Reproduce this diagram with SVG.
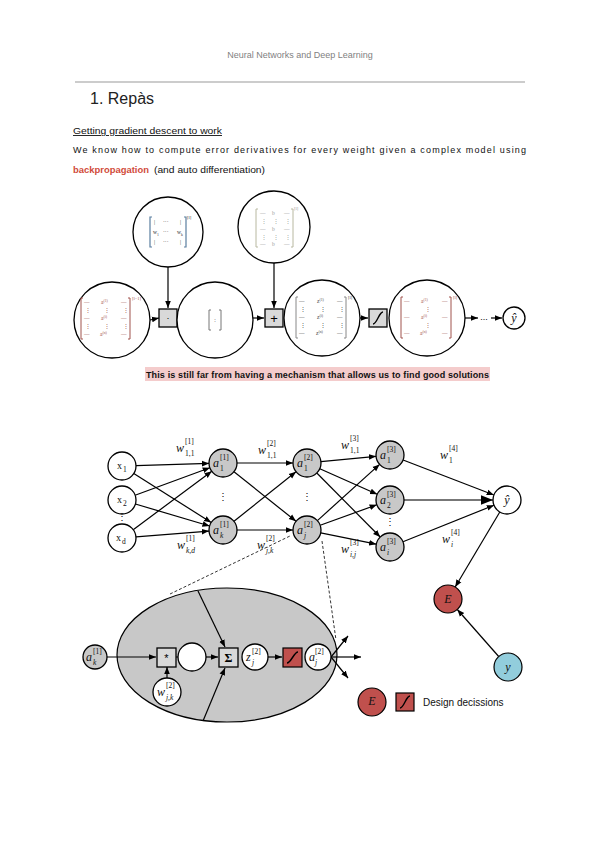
<svg xmlns="http://www.w3.org/2000/svg" width="600" height="848" viewBox="0 0 600 848">
<style>
.hdr{font-family:"Liberation Sans",Arial,sans-serif;font-size:9px;fill:#7f7f7f}
.body{font-family:"Liberation Sans",Arial,sans-serif;font-size:9px;fill:#111}
.red{fill:#d14b3a;font-weight:bold}
.h1{font-family:"Liberation Sans",Arial,sans-serif;font-size:16px;fill:#222}
.nd{fill:#fff;stroke:#000;stroke-width:1.3}
.gn{fill:#c8c8c8;stroke:#000;stroke-width:1.3}
.ed{stroke:#000;stroke-width:1.2;fill:none;marker-end:url(#ah)}
.ln{stroke:#000;stroke-width:1.2;fill:none}
.bx{fill:#d9d9d9;stroke:#000;stroke-width:1.3}
.rb{fill:#c0504d;stroke:#000;stroke-width:1.2}
.m{font-family:"Liberation Serif","Times New Roman",serif;font-style:italic;font-size:12px;fill:#111}
.ms{font-family:"Liberation Serif","Times New Roman",serif;font-size:7.5px;fill:#111}
.msi{font-family:"Liberation Serif","Times New Roman",serif;font-style:italic;font-size:7.5px;fill:#111}
.xs{font-family:"Liberation Serif","Times New Roman",serif;font-size:10px;fill:#111}
.mx{font-family:"Liberation Serif","Times New Roman",serif;font-size:5.5px}
.sup{font-size:3.8px}
.sig{stroke:#000;stroke-width:1.4;fill:none}
.dash{stroke:#000;stroke-width:0.8;stroke-dasharray:3,2;fill:none}
</style>
<defs>
<marker id="ah" viewBox="0 0 10 10" refX="10" refY="5" markerWidth="6" markerHeight="6" orient="auto-start-reverse"><path d="M0,1 L10,5 L0,9 z" fill="#000"/></marker>
</defs>
<rect width="600" height="848" fill="#fff"/>

<g id="header">
<text class="hdr" x="300" y="58" text-anchor="middle">Neural Networks and Deep Learning</text>
<line x1="75" y1="82" x2="525" y2="82" stroke="#999" stroke-width="1"/>
<text class="h1" x="90" y="104">1. Repàs</text>
<text class="body" x="73" y="134" textLength="149" lengthAdjust="spacingAndGlyphs" text-decoration="underline">Getting gradient descent to work</text>
<text class="body" x="73" y="153" textLength="453" lengthAdjust="spacing">We know how to compute error derivatives for every weight given a complex model using</text>
<text class="body red" x="73" y="173" textLength="76" lengthAdjust="spacingAndGlyphs">backpropagation</text>
<text class="body" x="154" y="173" textLength="111" lengthAdjust="spacingAndGlyphs">(and auto differentiation)</text>
</g>

<!-- Top computational graph -->
<g id="top-connectors">
<line class="ed" x1="150" y1="320" x2="159" y2="318"/>
<line class="ed" x1="168" y1="267" x2="168" y2="308"/>
<line class="ed" x1="253" y1="318" x2="264" y2="318"/>
<line class="ed" x1="274" y1="263" x2="274" y2="308"/>
<line class="ed" x1="360" y1="318" x2="368" y2="318"/>
<line class="ed" x1="465" y1="318" x2="478" y2="318"/>
<line class="ed" x1="491" y1="318" x2="502" y2="318"/>
</g>
<g id="t-a-prev">
<circle class="nd" cx="112" cy="320" r="38"/>
<path d="M83,298 h-2 v41 h2 M128,298 h2 v41 h-2" stroke="#a0524d" fill="none" stroke-width="1"/>
<g class="mx" fill="#a0524d">
<text x="84" y="304">—</text><text x="101" y="304">a<tspan class="sup" dy="-2">(1)</tspan></text><text x="121" y="304">—</text>
<text x="85" y="312">⋮</text><text x="104" y="312">⋮</text><text x="123" y="312">⋮</text>
<text x="84" y="320">—</text><text x="101" y="320">a<tspan class="sup" dy="-2">(i)</tspan></text><text x="121" y="320">—</text>
<text x="85" y="328">⋮</text><text x="104" y="328">⋮</text><text x="123" y="328">⋮</text>
<text x="84" y="336">—</text><text x="100" y="336">a<tspan class="sup" dy="-2">(n)</tspan></text><text x="121" y="336">—</text>
<text x="132" y="300" font-size="4.5">[l−1]</text>
</g>
</g>
<g id="t-W">
<circle class="nd" cx="168" cy="232" r="35"/>
<path d="M152,217 h-2 v30 h2 M184,217 h2 v30 h-2" stroke="#5a7fa0" fill="none" stroke-width="1.2"/>
<g class="mx" fill="#333">
<text x="154" y="224">|</text><text x="163" y="224">···</text><text x="180" y="224">|</text>
<text x="153" y="234">w<tspan class="sup" dy="1.5">1</tspan></text><text x="163" y="234">···</text><text x="177" y="234">w<tspan class="sup" dy="1.5">k</tspan></text>
<text x="154" y="244">|</text><text x="163" y="244">···</text><text x="180" y="244">|</text>
<text x="187" y="219" font-size="4.5">[l]</text>
</g>
</g>
<g id="t-mul">
<rect class="bx" x="159" y="309" width="18" height="18"/>
<text x="168" y="321" text-anchor="middle" font-family="Liberation Sans" font-size="9">·</text>
</g>
<g id="t-mid">
<circle class="nd" cx="215" cy="320" r="38"/>
<path d="M211,310 h-2 v20 h2 M219,310 h2 v20 h-2" stroke="#777" fill="none" stroke-width="1"/>
<text x="215" y="322" text-anchor="middle" class="mx" fill="#555">:</text>
</g>
<g id="t-b">
<circle class="nd" cx="274" cy="227" r="36"/>
<path d="M258,209 h-2 v38 h2 M291,209 h2 v38 h-2" stroke="#b8b8a0" fill="none" stroke-width="1"/>
<g class="mx" fill="#999">
<text x="260" y="215">—</text><text x="272" y="215">b</text><text x="284" y="215">—</text>
<text x="261" y="223">⋮</text><text x="273" y="223">⋮</text><text x="285" y="223">⋮</text>
<text x="260" y="231">—</text><text x="272" y="231">b</text><text x="284" y="231">—</text>
<text x="261" y="239">⋮</text><text x="273" y="239">⋮</text><text x="285" y="239">⋮</text>
<text x="260" y="246">—</text><text x="272" y="246">b</text><text x="284" y="246">—</text>
<text x="294" y="210" font-size="4.5">[l]</text>
</g>
</g>
<g id="t-add">
<rect class="bx" x="265" y="309" width="18" height="18"/>
<text x="274" y="323" text-anchor="middle" font-family="Liberation Sans" font-size="13">+</text>
</g>
<g id="t-z">
<circle class="nd" cx="322" cy="318" r="38"/>
<path d="M298,297 h-2 v41 h2 M344,297 h2 v41 h-2" stroke="#888" fill="none" stroke-width="1"/>
<g class="mx" fill="#444">
<text x="299" y="303">—</text><text x="317" y="303">z<tspan class="sup" dy="-2">(1)</tspan></text><text x="337" y="303">—</text>
<text x="300" y="311">⋮</text><text x="320" y="311">⋮</text><text x="339" y="311">⋮</text>
<text x="299" y="319">—</text><text x="317" y="319">z<tspan class="sup" dy="-2">(i)</tspan></text><text x="337" y="319">—</text>
<text x="300" y="327">⋮</text><text x="320" y="327">⋮</text><text x="339" y="327">⋮</text>
<text x="299" y="335">—</text><text x="316" y="335">z<tspan class="sup" dy="-2">(n)</tspan></text><text x="337" y="335">—</text>
<text x="348" y="299" font-size="4.5">[l]</text>
</g>
</g>
<g id="t-sig">
<rect class="bx" x="369" y="309" width="18" height="18"/>
<path class="sig" d="M373,324 C377,324 379,312 383,312"/>
</g>
<g id="t-a">
<circle class="nd" cx="427" cy="318" r="38"/>
<path d="M403,297 h-2 v41 h2 M449,297 h2 v41 h-2" stroke="#a0524d" fill="none" stroke-width="1"/>
<g class="mx" fill="#a0524d">
<text x="404" y="303">—</text><text x="421" y="303">a<tspan class="sup" dy="-2">(1)</tspan></text><text x="442" y="303">—</text>
<text x="425" y="311">⋮</text>
<text x="404" y="319">—</text><text x="421" y="319">a<tspan class="sup" dy="-2">(i)</tspan></text><text x="442" y="319">—</text>
<text x="425" y="327">⋮</text>
<text x="404" y="335">—</text><text x="420" y="335">a<tspan class="sup" dy="-2">(n)</tspan></text><text x="442" y="335">—</text>
<text x="453" y="299" font-size="4.5">[l]</text>
</g>
</g>
<g id="t-dots"><text x="484" y="320" text-anchor="middle" font-family="Liberation Sans" font-size="9">...</text></g>
<g id="t-yhat">
<circle class="nd" cx="514" cy="318" r="11"/>
<text class="m" x="514" y="322" text-anchor="middle">ŷ</text>
</g>

<g id="caption">
<rect x="145" y="367" width="345" height="14" fill="#f4cccc"/>
<text class="body" x="146" y="377.5" textLength="343" lengthAdjust="spacing" font-weight="bold" font-size="8.5">This is still far from having a mechanism that allows us to find good solutions</text>
</g>

<!-- Neural network -->
<g id="nn-connectors">
<line class="ed" x1="136" y1="465.6" x2="209" y2="463.4"/>
<line class="ed" x1="133.8" y1="473.5" x2="211.2" y2="522.5"/>
<line class="ed" x1="135.1" y1="495.2" x2="209.9" y2="467.8"/>
<line class="ed" x1="135.4" y1="504" x2="209.6" y2="526"/>
<line class="ed" x1="133.2" y1="529.7" x2="211.8" y2="471.3"/>
<line class="ed" x1="136" y1="536.9" x2="209" y2="531.1"/>
<line class="ed" x1="237" y1="463" x2="293" y2="463"/>
<line class="ed" x1="234" y1="471.7" x2="296" y2="521.3"/>
<line class="ed" x1="234" y1="521.3" x2="296" y2="471.7"/>
<line class="ed" x1="237" y1="530" x2="293" y2="530"/>
<line class="ed" x1="320.9" y1="461.7" x2="376.1" y2="456.3"/>
<line class="ed" x1="319.8" y1="468.7" x2="377.2" y2="494.3"/>
<line class="ed" x1="316.8" y1="473" x2="380.2" y2="537"/>
<line class="ed" x1="317.4" y1="520.6" x2="379.6" y2="464.4"/>
<line class="ed" x1="320.2" y1="525.2" x2="376.8" y2="504.8"/>
<line class="ed" x1="320.7" y1="532.8" x2="376.3" y2="544.2"/>
<line class="ed" x1="403.1" y1="460" x2="493.9" y2="495"/>
<line x1="404" y1="500" x2="493" y2="500" stroke="#777" stroke-width="2" marker-end="url(#ah)"/>
<line class="ed" x1="403" y1="541.8" x2="494" y2="505.2"/>
<line class="ed" x1="499.8" y1="512" x2="455.2" y2="587"/>
<line class="ed" x1="498.7" y1="656.5" x2="457.3" y2="609.5"/>
<line class="dash" x1="170" y1="594" x2="290" y2="536"/>
<line class="dash" x1="322" y1="541" x2="336" y2="640"/>
</g>

<g id="x1"><circle class="nd" cx="122" cy="466" r="14"/><text class="xs" x="117" y="469">x</text><text class="ms" x="123" y="472">1</text></g>
<g id="x2"><circle class="nd" cx="122" cy="500" r="14"/><text class="xs" x="117" y="503">x</text><text class="ms" x="123" y="506">2</text></g>
<g id="xdots"><text class="xs" x="122" y="520" text-anchor="middle">⋮</text></g>
<g id="xd"><circle class="nd" cx="122" cy="538" r="14"/><text class="xs" x="116" y="541">x</text><text class="ms" x="122" y="544">d</text></g>

<g id="h1"><circle class="gn" cx="223" cy="463" r="14"/><text class="m" x="213" y="467">a</text><text class="ms" x="220" y="460">[1]</text><text class="ms" x="220" y="471">1</text></g>
<g id="hdots"><text class="xs" x="223" y="500" text-anchor="middle">⋮</text></g>
<g id="hk"><circle class="gn" cx="223" cy="530" r="14"/><text class="m" x="213" y="534">a</text><text class="ms" x="220" y="527">[1]</text><text class="msi" x="220" y="538">k</text></g>

<g id="g1"><circle class="gn" cx="307" cy="463" r="14"/><text class="m" x="297" y="467">a</text><text class="ms" x="304" y="460">[2]</text><text class="ms" x="304" y="471">1</text></g>
<g id="gdots"><text class="xs" x="307" y="500" text-anchor="middle">⋮</text></g>
<g id="gj"><circle class="gn" cx="307" cy="530" r="14"/><text class="m" x="297" y="534">a</text><text class="ms" x="304" y="527">[2]</text><text class="msi" x="304" y="538">j</text></g>

<g id="o1"><circle class="gn" cx="390" cy="455" r="14"/><text class="m" x="380" y="459">a</text><text class="ms" x="387" y="452">[3]</text><text class="ms" x="387" y="463">1</text></g>
<g id="o2"><circle class="gn" cx="390" cy="500" r="14"/><text class="m" x="380" y="504">a</text><text class="ms" x="387" y="497">[3]</text><text class="ms" x="387" y="508">2</text></g>
<g id="odots"><text class="xs" x="390" y="525" text-anchor="middle">⋮</text></g>
<g id="oi"><circle class="gn" cx="390" cy="547" r="14"/><text class="m" x="380" y="551">a</text><text class="ms" x="387" y="544">[3]</text><text class="msi" x="387" y="555">i</text></g>

<g id="yhat"><circle class="nd" cx="507" cy="500" r="14"/><text class="m" x="507" y="504" text-anchor="middle">ŷ</text></g>
<g id="E"><circle class="rb" cx="448" cy="599" r="14"/><text class="m" x="448" y="603" text-anchor="middle" font-size="9">E</text></g>
<g id="y"><circle cx="508" cy="667" r="14" fill="#92cddc" stroke="#000" stroke-width="1.2"/><text class="m" x="508" y="671" text-anchor="middle" font-size="10">y</text></g>

<g id="weights">
<text class="m" x="176" y="452">w</text><text class="ms" x="185" y="444">[1]</text><text class="ms" x="185" y="456">1,1</text>
<text class="m" x="258" y="454">w</text><text class="ms" x="267" y="446">[2]</text><text class="ms" x="267" y="458">1,1</text>
<text class="m" x="177" y="549">w</text><text class="ms" x="186" y="541">[1]</text><text class="msi" x="186" y="553">k,d</text>
<text class="m" x="257" y="549">w</text><text class="ms" x="266" y="541">[2]</text><text class="msi" x="266" y="553">j,k</text>
<text class="m" x="341" y="449">w</text><text class="ms" x="350" y="441">[3]</text><text class="ms" x="350" y="453">1,1</text>
<text class="m" x="341" y="553">w</text><text class="ms" x="350" y="545">[3]</text><text class="msi" x="350" y="557">i,j</text>
<text class="m" x="440" y="459">w</text><text class="ms" x="449" y="451">[4]</text><text class="ms" x="449" y="463">1</text>
<text class="m" x="442" y="543">w</text><text class="ms" x="451" y="535">[4]</text><text class="msi" x="451" y="547">i</text>
</g>

<!-- Zoomed neuron -->
<g id="neuron-ellipse"><ellipse cx="227" cy="655" rx="110" ry="67" fill="#c8c8c8" stroke="#000" stroke-width="1.2"/></g>
<g id="neuron-connectors">
<line class="ed" x1="107" y1="657" x2="156" y2="657"/>
<line class="ln" x1="176" y1="657" x2="178" y2="657"/>
<line class="ed" x1="206" y1="657" x2="218" y2="657"/>
<line class="ed" x1="268" y1="657" x2="282" y2="657"/>
<line class="ed" x1="167" y1="678" x2="167" y2="667"/>
<line class="ed" x1="198" y1="591" x2="225" y2="647"/>
<line class="ed" x1="203" y1="721" x2="225" y2="668"/>
<line class="ed" x1="331" y1="657" x2="361" y2="657"/>
<line class="ed" x1="331" y1="657" x2="348" y2="636"/>
<line class="ed" x1="331" y1="657" x2="348" y2="678"/>
</g>
<g id="n-ak"><circle class="gn" cx="95" cy="657" r="12"/><text class="m" x="86" y="661">a</text><text class="ms" x="93" y="654">[1]</text><text class="msi" x="93" y="665">k</text></g>
<g id="n-mul"><rect class="bx" x="157" y="648" width="19" height="19"/><text x="166.5" y="662" text-anchor="middle" font-family="Liberation Sans" font-size="11">*</text></g>
<g id="n-prod"><circle class="nd" cx="192" cy="657" r="14"/></g>
<g id="n-w"><circle class="nd" cx="167" cy="692" r="14"/><text class="m" x="157" y="696">w</text><text class="ms" x="166" y="688">[2]</text><text class="msi" x="166" y="700">j,k</text></g>
<g id="n-sum"><rect class="bx" x="219" y="648" width="19" height="19"/><text x="228.5" y="662" text-anchor="middle" font-family="Liberation Serif" font-weight="bold" font-size="12">Σ</text></g>
<g id="n-z"><circle class="nd" cx="255" cy="657" r="13"/><text class="m" x="246" y="661">z</text><text class="ms" x="252" y="654">[2]</text><text class="msi" x="252" y="665">j</text></g>
<g id="n-f"><rect class="rb" x="283" y="648" width="19" height="19"/><path class="sig" d="M287,663 C291,663 294,652 298,652"/></g>
<g id="n-a"><circle class="nd" cx="318" cy="657" r="13"/><text class="m" x="309" y="661">a</text><text class="ms" x="315" y="654">[2]</text><text class="msi" x="315" y="665">j</text></g>

<g id="legend">
<circle class="rb" cx="372" cy="702" r="14"/><text class="m" x="372" y="705" text-anchor="middle" font-size="8">E</text>
<rect class="rb" x="396" y="693" width="18" height="18"/><path class="sig" d="M400,708 C404,708 406,696 410,696"/>
<text x="423" y="706" font-family="Liberation Sans" font-size="10" fill="#111">Design decissions</text>
</g>
</svg>
